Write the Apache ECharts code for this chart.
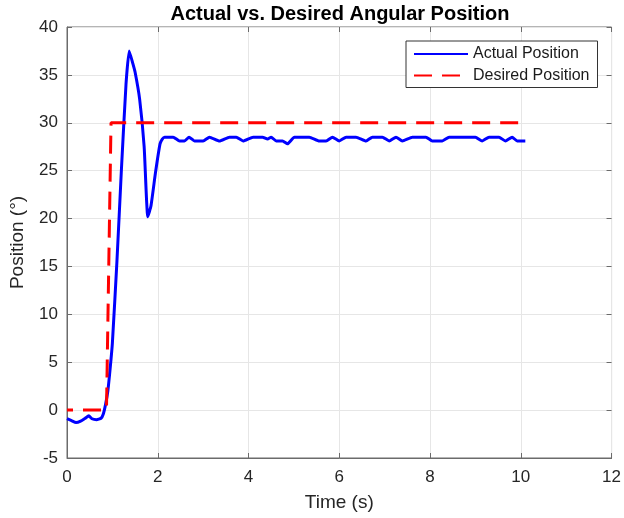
<!DOCTYPE html>
<html>
<head>
<meta charset="utf-8">
<script src="https://cdn.jsdelivr.net/npm/echarts@6/dist/echarts.min.js"></script>
<style>
  html, body { margin: 0; padding: 0; background: #fff; }
  #chart { width: 624px; height: 518px; }
</style>
</head>
<body>
<div id="chart"></div>
<script>
// Measured angular position (degrees) over time (seconds)
const timeActual = [
  0, 0.1, 0.2, 0.3, 0.4, 0.48, 0.55, 0.65, 0.75, 0.8, 0.85, 0.9, 0.95, 1.0,
  1.1, 1.2, 1.3, 1.37, 1.45, 1.5, 1.6, 1.7, 1.78, 1.85, 1.95, 2.05, 2.1, 2.15,
  2.34, 2.48, 2.59, 2.69, 2.81, 3.0, 3.14, 3.36, 3.58, 3.73, 3.88, 4.1, 4.31,
  4.42, 4.5, 4.61, 4.75, 4.86, 5.01, 5.34, 5.56, 5.71, 5.85, 6.0, 6.15, 6.37,
  6.59, 6.73, 6.95, 7.1, 7.25, 7.39, 7.61, 7.91, 8.05, 8.27, 8.42, 9.0, 9.15,
  9.3, 9.52, 9.66, 9.81, 9.92, 10.1
];
const actualPos = [
  -0.9, -1.1, -1.3, -1.15, -0.85, -0.6, -0.9, -1.0, -0.85, -0.4, 0.6, 2.0, 4.3, 7.0,
  15.5, 25.2, 34.0, 37.5, 36.2, 35.3, 32.5, 27.5, 20.2, 21.3, 24.8, 27.8, 28.3, 28.5,
  28.5, 28.1, 28.1, 28.5, 28.1, 28.1, 28.5, 28.1, 28.5, 28.5, 28.1, 28.5, 28.5,
  28.3, 28.5, 28.1, 28.1, 27.8, 28.5, 28.5, 28.1, 28.1, 28.5, 28.1, 28.5, 28.5,
  28.1, 28.5, 28.5, 28.1, 28.5, 28.1, 28.5, 28.5, 28.1, 28.1, 28.5, 28.5, 28.1,
  28.5, 28.5, 28.1, 28.5, 28.1, 28.1
];

// Commanded (desired) position: step from 0 to 30 degrees
const timeDesired = [0, 0.87, 0.97, 10.05];
const desiredPos = [0, 0, 30, 30];

// Axis ticks
const xTicks = { min: 0, max: 12, step: 2 };
const yTicks = { min: -5, max: 40, step: 5 };

const FONT = '"Liberation Sans", Arial, Helvetica, sans-serif';
const pairs = (xs, ys) => xs.map((x, i) => [x, ys[i]]);

const chart = echarts.init(document.getElementById('chart'), null, { renderer: 'canvas' });

const frameColor = '#6b6b6b';
const gridLineColor = '#e6e6e6';

chart.setOption({
  animation: false,
  backgroundColor: '#ffffff',
  title: {
    text: 'Actual vs. Desired Angular Position',
    left: 340,
    top: 4,
    textAlign: 'center',
    padding: 0,
    textStyle: { fontFamily: FONT, fontSize: 20, fontWeight: 'bold', color: '#000' }
  },
  grid: {
    left: 67, right: 11, top: 27, bottom: 60,
    show: true, borderColor: frameColor, borderWidth: 1,
    backgroundColor: 'transparent'
  },
  legend: {
    orient: 'vertical',
    left: 406, top: 41,
    padding: [4, 8, 3, 7],
    itemGap: 3.5,
    itemWidth: 54,
    itemHeight: 18,
    backgroundColor: '#fff',
    borderColor: '#333',
    borderWidth: 1,
    borderRadius: 0,
    itemStyle: { opacity: 0 },
    lineStyle: { dashOffset: 0 },
    textStyle: { fontFamily: FONT, fontSize: 16, color: '#1a1a1a', lineHeight: 18 },
    data: ['Actual Position', 'Desired Position']
  },
  xAxis: [{
    type: 'value',
    min: xTicks.min, max: xTicks.max, interval: xTicks.step,
    name: 'Time (s)',
    nameLocation: 'middle',
    nameGap: 35,
    nameTextStyle: { fontFamily: FONT, fontSize: 19, color: '#262626' },
    axisLine: { show: true, onZero: false, lineStyle: { color: frameColor, width: 1 } },
    axisTick: { show: true, inside: true, length: 5, lineStyle: { color: frameColor } },
    axisLabel: { fontFamily: FONT, fontSize: 17, color: '#262626', margin: 11 },
    splitLine: { show: true, lineStyle: { color: gridLineColor, width: 1 } }
  }, {
    type: 'value', position: 'top',
    min: xTicks.min, max: xTicks.max, interval: xTicks.step,
    axisLine: { show: false, onZero: false },
    axisTick: { show: true, inside: true, length: 5, lineStyle: { color: frameColor } },
    axisLabel: { show: false },
    splitLine: { show: false }
  }],
  yAxis: [{
    type: 'value',
    min: yTicks.min, max: yTicks.max, interval: yTicks.step,
    name: 'Position (°)',
    nameLocation: 'middle',
    nameGap: 40,
    nameTextStyle: { fontFamily: FONT, fontSize: 19, color: '#262626' },
    axisLine: { show: true, onZero: false, lineStyle: { color: frameColor, width: 1 } },
    axisTick: { show: true, inside: true, length: 5, lineStyle: { color: frameColor } },
    axisLabel: { fontFamily: FONT, fontSize: 17, color: '#262626', margin: 9 },
    splitLine: { show: true, lineStyle: { color: gridLineColor, width: 1 } }
  }, {
    type: 'value', position: 'right',
    min: yTicks.min, max: yTicks.max, interval: yTicks.step,
    axisLine: { show: false, onZero: false },
    axisTick: { show: true, inside: true, length: 5, lineStyle: { color: frameColor } },
    axisLabel: { show: false },
    splitLine: { show: false }
  }],
  series: [{
    name: 'Actual Position',
    type: 'line',
    xAxisIndex: 0, yAxisIndex: 0,
    data: pairs(timeActual, actualPos),
    showSymbol: false, symbol: 'none',
    smooth: 0.15,
    color: '#0000ff',
    lineStyle: { color: '#0000ff', width: 3 },
    z: 3
  }, {
    name: 'Desired Position',
    type: 'line',
    xAxisIndex: 0, yAxisIndex: 0,
    data: pairs(timeDesired, desiredPos),
    showSymbol: false, symbol: 'none',
    color: '#ff0000',
    lineStyle: { color: '#ff0000', width: 3, type: [18, 10], dashOffset: 12 },
    z: 4
  }]
});
</script>
</body>
</html>
